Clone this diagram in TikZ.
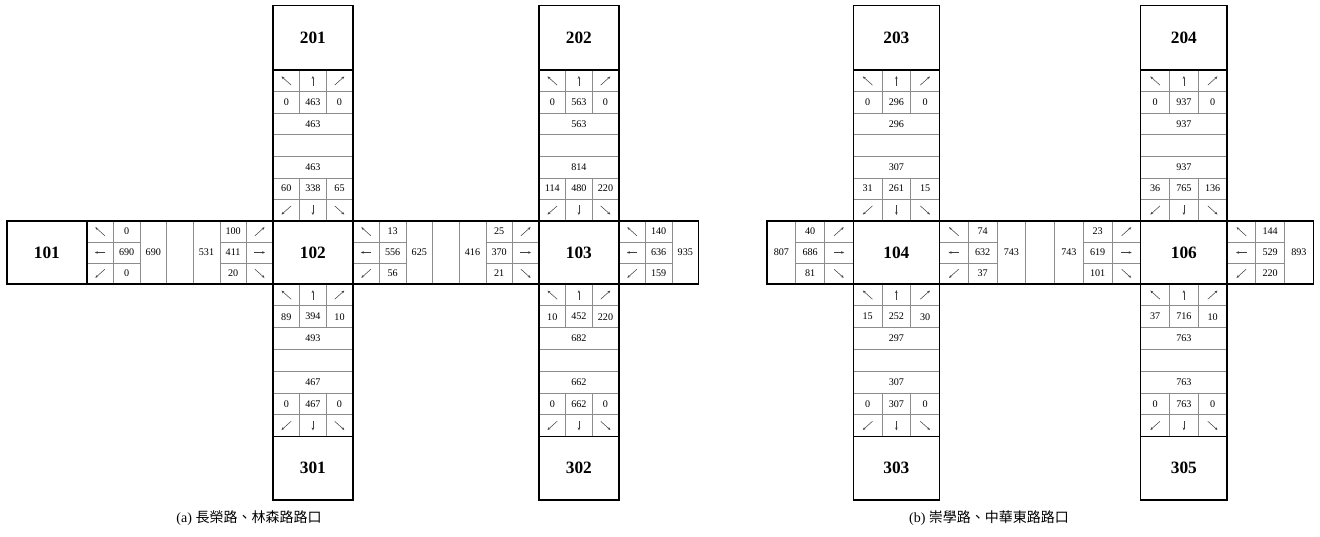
\documentclass[tikz,border=0pt]{standalone}
\usepackage{fontspec}
\setmainfont{Liberation Serif}
\newfontfamily\cjk{Noto Sans CJK TC}
\usetikzlibrary{arrows.meta}
\newcounter{tn}
\tikzset{
  borderline/.style={line width=1.1pt, black},
  divline/.style={line width=0.45pt, black!45},
  numtxt/.style={font=\fontsize{7.6}{8}\selectfont, inner sep=0pt},
  boxtxt/.style={font=\fontsize{13}{14}\selectfont\bfseries, inner sep=0pt},
  captxt/.style={font=\fontsize{10.5}{12}\selectfont, inner sep=0pt},
  arrowst/.style={line width=0.4pt, black!75, -{Stealth[length=2.2pt,width=1.9pt]}},
}
\newcommand\tx[3]{\stepcounter{tn}\node[numtxt] (t\arabic{tn}) at ({#1},{#2}) {#3};}
\newcommand\arr[4]{\draw[arrowst] ({(#1)-(#3)},{(#2)-(#4)}) -- ({(#1)+(#3)},{(#2)+(#4)});}
% column grid: #1 = y of first row top, #2 = row height ; uses \cu, \ox, \cw
\newcommand\colgrid[2]{%
  \foreach \k in {1,...,6}{\draw[divline] ({\ox+\cw*\cu},{#1+#2*\k}) -- ({\ox+\cw*(\cu+3)},{#1+#2*\k});}
  \foreach \k in {1,2}{\draw[divline] ({\ox+\cw*(\cu+\k)},{#1}) -- ({\ox+\cw*(\cu+\k)},{#1+2*#2})
      ({\ox+\cw*(\cu+\k)},{#1+5*#2}) -- ({\ox+\cw*(\cu+\k)},{#1+7*#2});}
  \arr{\ox+\cw*(\cu+0.5)}{#1+0.5*#2}{-4.8}{-4.3}
  \arr{\ox+\cw*(\cu+1.5)}{#1+0.5*#2}{0}{-4.8}
  \arr{\ox+\cw*(\cu+2.5)}{#1+0.5*#2}{4.8}{-4.3}
  \arr{\ox+\cw*(\cu+0.5)}{#1+6.5*#2}{-4.8}{4.3}
  \arr{\ox+\cw*(\cu+1.5)}{#1+6.5*#2}{0}{4.8}
  \arr{\ox+\cw*(\cu+2.5)}{#1+6.5*#2}{4.8}{4.3}
}
% rows 2-3 of a column
\newcommand\colA[6]{%
  \tx{\ox+\cw*(\cu+0.5)}{#1+1.5*#2}{#3}
  \tx{\ox+\cw*(\cu+1.5)}{#1+1.5*#2}{#4}
  \tx{\ox+\cw*(\cu+2.5)}{#1+1.5*#2}{#5}
  \tx{\ox+\cw*(\cu+1.5)}{#1+2.5*#2}{#6}
}
% rows 5-6 of a column
\newcommand\colB[6]{%
  \tx{\ox+\cw*(\cu+1.5)}{#1+4.5*#2}{#3}
  \tx{\ox+\cw*(\cu+0.5)}{#1+5.5*#2}{#4}
  \tx{\ox+\cw*(\cu+1.5)}{#1+5.5*#2}{#5}
  \tx{\ox+\cw*(\cu+2.5)}{#1+5.5*#2}{#6}
}
% band: arrows west, numbers, sum
\newcommand\hleft[5]{%
  \foreach \k in {1,2,3}{\draw[divline] ({\ox+\cw*(#1+\k)},221) -- ({\ox+\cw*(#1+\k)},284);}
  \draw[divline] ({\ox+\cw*#1},242) -- ({\ox+\cw*(#1+2)},242) ({\ox+\cw*#1},263) -- ({\ox+\cw*(#1+2)},263);
  \arr{\ox+\cw*(#1+0.5)}{231.5}{-4.8}{-4.3}
  \arr{\ox+\cw*(#1+0.5)}{252.5}{-5.3}{0}
  \arr{\ox+\cw*(#1+0.5)}{273.5}{-4.8}{4.3}
  \tx{\ox+\cw*(#1+1.5)}{231.5}{#2}
  \tx{\ox+\cw*(#1+1.5)}{252.5}{#3}
  \tx{\ox+\cw*(#1+1.5)}{273.5}{#4}
  \tx{\ox+\cw*(#1+2.5)}{252.5}{#5}
}
% band: sum, numbers, arrows east
\newcommand\hright[5]{%
  \foreach \k in {0,1,2}{\draw[divline] ({\ox+\cw*(#1+\k)},221) -- ({\ox+\cw*(#1+\k)},284);}
  \draw[divline] ({\ox+\cw*(#1+1)},242) -- ({\ox+\cw*(#1+3)},242) ({\ox+\cw*(#1+1)},263) -- ({\ox+\cw*(#1+3)},263);
  \arr{\ox+\cw*(#1+2.5)}{231.5}{4.8}{-4.3}
  \arr{\ox+\cw*(#1+2.5)}{252.5}{5.3}{0}
  \arr{\ox+\cw*(#1+2.5)}{273.5}{4.8}{4.3}
  \tx{\ox+\cw*(#1+0.5)}{252.5}{#2}
  \tx{\ox+\cw*(#1+1.5)}{231.5}{#3}
  \tx{\ox+\cw*(#1+1.5)}{252.5}{#4}
  \tx{\ox+\cw*(#1+1.5)}{273.5}{#5}
}
% thick column outline with its two end boxes
\newcommand\colframe{%
  \draw[borderline] ({\ox+\cw*\cu},5.5) rectangle ({\ox+\cw*(\cu+3)},500);
  \draw[borderline] ({\ox+\cw*\cu},70) -- ({\ox+\cw*(\cu+3)},70);
  \draw[borderline] ({\ox+\cw*\cu},436.5) -- ({\ox+\cw*(\cu+3)},436.5);
}
\begin{document}
\begin{tikzpicture}[x=0.75pt,y=-0.75pt]
\useasboundingbox (0,0) rectangle (1320,536);
% ================= (a) =================
\def\ox{7}\def\cw{26.6}
\hleft{3}{0}{690}{0}{690}
\hright{7}{531}{100}{411}{20}
\hleft{13}{13}{556}{56}{625}
\hright{17}{416}{25}{370}{21}
\hleft{23}{140}{636}{159}{935}
\def\cu{10}
\colgrid{70}{21.571}
\colA{70}{21.571}{0}{463}{0}{463}
\colB{70}{21.571}{463}{60}{338}{65}
\colgrid{284}{21.786}
\colA{284}{21.786}{89}{394}{10}{493}
\colB{284}{21.786}{467}{0}{467}{0}
\def\cu{20}
\colgrid{70}{21.571}
\colA{70}{21.571}{0}{563}{0}{563}
\colB{70}{21.571}{814}{114}{480}{220}
\colgrid{284}{21.786}
\colA{284}{21.786}{10}{452}{220}{682}
\colB{284}{21.786}{662}{0}{662}{0}
% frames
\draw[borderline] ({\ox},221) rectangle ({\ox+\cw*26},284);
\draw[borderline] ({\ox+\cw*3},221) -- ({\ox+\cw*3},284);
\def\cu{10}\colframe
\def\cu{20}\colframe
\node[boxtxt] (b101) at ({\ox+\cw*1.5},252.5) {101};
\node[boxtxt] (b102) at ({\ox+\cw*11.5},252.5) {102};
\node[boxtxt] (b103) at ({\ox+\cw*21.5},252.5) {103};
\node[boxtxt] (b201) at ({\ox+\cw*11.5},37.75) {201};
\node[boxtxt] (b202) at ({\ox+\cw*21.5},37.75) {202};
\node[boxtxt] (b301) at ({\ox+\cw*11.5},468.25) {301};
\node[boxtxt] (b302) at ({\ox+\cw*21.5},468.25) {302};
\node[captxt] (capa) at (249,518) {(a) {\cjk 長榮路、林森路路口}};
% ================= (b) =================
\def\ox{767}\def\cw{28.75}
\hright{0}{807}{40}{686}{81}
\hleft{6}{74}{632}{37}{743}
\hright{10}{743}{23}{619}{101}
\hleft{16}{144}{529}{220}{893}
\def\cu{3}
\colgrid{70}{21.571}
\colA{70}{21.571}{0}{296}{0}{296}
\colB{70}{21.571}{307}{31}{261}{15}
\colgrid{284}{21.786}
\colA{284}{21.786}{15}{252}{30}{297}
\colB{284}{21.786}{307}{0}{307}{0}
\def\cu{13}
\colgrid{70}{21.571}
\colA{70}{21.571}{0}{937}{0}{937}
\colB{70}{21.571}{937}{36}{765}{136}
\colgrid{284}{21.786}
\colA{284}{21.786}{37}{716}{10}{763}
\colB{284}{21.786}{763}{0}{763}{0}
\draw[borderline] ({\ox},221) rectangle ({\ox+\cw*19},284);
\def\cu{3}\colframe
\def\cu{13}\colframe
\node[boxtxt] (b104) at ({\ox+\cw*4.5},252.5) {104};
\node[boxtxt] (b106) at ({\ox+\cw*14.5},252.5) {106};
\node[boxtxt] (b203) at ({\ox+\cw*4.5},37.75) {203};
\node[boxtxt] (b204) at ({\ox+\cw*14.5},37.75) {204};
\node[boxtxt] (b303) at ({\ox+\cw*4.5},468.25) {303};
\node[boxtxt] (b305) at ({\ox+\cw*14.5},468.25) {305};
\node[captxt] (capb) at (989,518) {(b) {\cjk 崇學路、中華東路路口}};
\end{tikzpicture}
\end{document}
